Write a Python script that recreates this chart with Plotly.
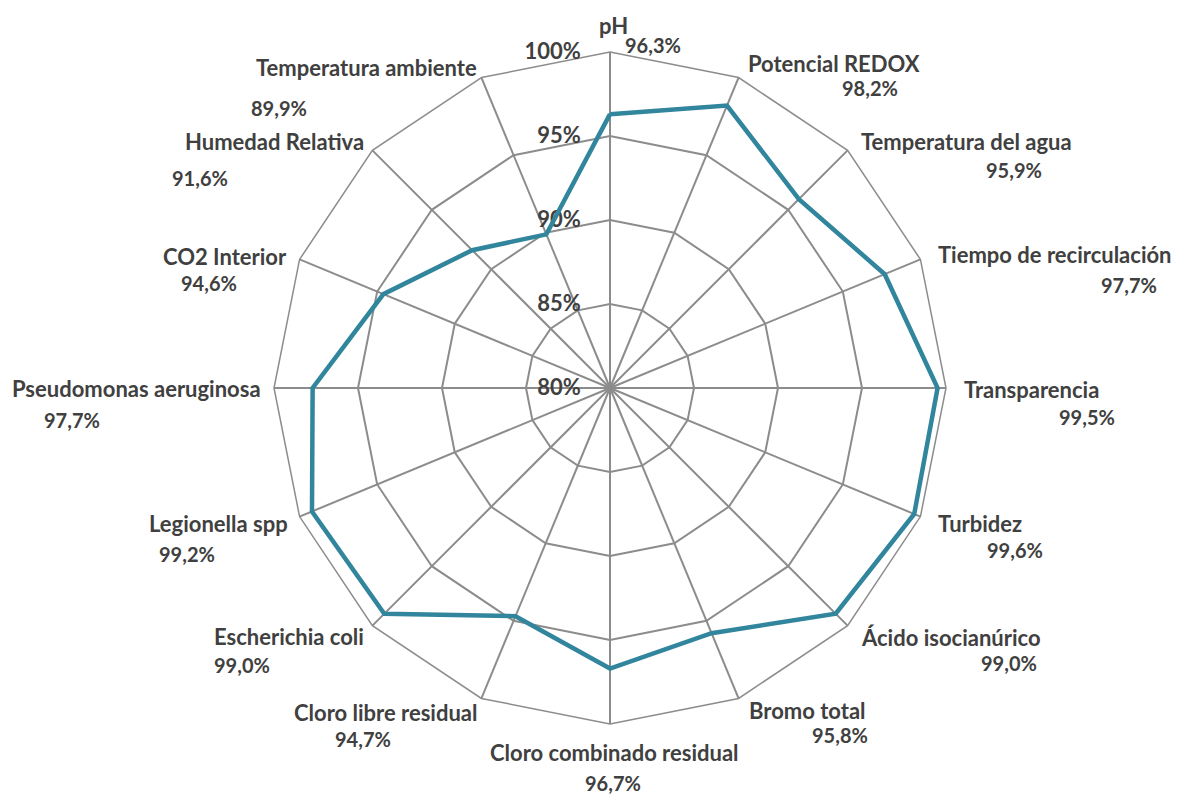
"""
Radar chart: grado de cumplimiento por parámetro (escala 80-100 %)
"""
import plotly.graph_objects as go

# Datos
categorias = [
    "pH", "Potencial REDOX", "Temperatura del agua", "Tiempo de recirculación",
    "Transparencia", "Turbidez", "Ácido isocianúrico", "Bromo total",
    "Cloro combinado residual", "Cloro libre residual", "Escherichia coli",
    "Legionella spp", "Pseudomonas aeruginosa", "CO2 Interior",
    "Humedad Relativa", "Temperatura ambiente",
]
valores = [96.3, 98.2, 95.9, 97.7, 99.5, 99.6, 99.0, 95.8,
           96.7, 94.7, 99.0, 99.2, 97.7, 94.6, 91.6, 89.9]
ticks_r = [80, 85, 90, 95, 100]
etiquetas_r = ["80%", "85%", "90%", "95%", "100%"]

# colocación de las etiquetas (px de pantalla), como las deja Excel
pos_nombres = [
    (613, 25, "center"), (747, 63, "left"), (860, 142, "left"),
    (937, 255, "left"), (963, 389, "left"), (937, 523, "left"),
    (860, 637, "left"), (748, 710, "left"), (614, 752, "center"),
    (478, 712, "right"), (365, 636, "right"), (289, 523, "right"),
    (262, 388, "right"), (288, 256, "right"), (365, 142, "right"),
    (478, 67, "right"),
]
pos_valores = [
    (653, 45), (870, 88), (1014, 170), (1129, 285), (1087, 417), (1015, 550),
    (1009, 663), (840, 735), (613, 783), (363, 739), (242, 665), (187, 554),
    (72, 420), (209, 283), (200, 178), (279, 108),
]

# la página deja 8 px de margen alrededor de la figura
OFF = 8
W, H = 1172, 787
M = dict(l=50, r=18, t=44, b=71)
GRIS = "#404040"
REJILLA = "#8C8C8C"
FUENTE = "Lato"
INVISIBLE = "rgba(0,0,0,0)"

fig = go.Figure()
fig.add_trace(go.Scatterpolar(
    r=valores + valores[:1],
    theta=categorias + categorias[:1],
    mode="lines",
    line=dict(color="#31859C", width=4.5),
    showlegend=False,
    hoverinfo="skip",
))


def to_paper(px, py):
    x = (px - OFF - M["l"]) / (W - M["l"] - M["r"])
    y = 1 - (py - OFF - M["t"]) / (H - M["t"] - M["b"])
    return x, y


annots = []
for c, (px, py, anc) in zip(categorias, pos_nombres):
    x, y = to_paper(px, py)
    annots.append(dict(
        x=x, y=y, xref="paper", yref="paper", showarrow=False,
        text="<b>" + c + "</b>",
        font=dict(family=FUENTE, size=22, color=GRIS),
        xanchor=anc, yanchor="middle", borderpad=0,
    ))
for v, (px, py) in zip(valores, pos_valores):
    x, y = to_paper(px, py)
    annots.append(dict(
        x=x, y=y, xref="paper", yref="paper", showarrow=False,
        text="<b>" + f"{v:.1f}".replace(".", ",") + "%</b>",
        font=dict(family=FUENTE, size=20, color=GRIS),
        xanchor="center", yanchor="middle", borderpad=0,
    ))

fig.update_layout(
    width=W, height=H,
    margin=M,
    paper_bgcolor="white",
    plot_bgcolor="white",
    font=dict(family=FUENTE, color=GRIS),
    annotations=annots,
    polar=dict(
        bgcolor="white",
        gridshape="linear",
        radialaxis=dict(
            range=[80, 100],
            tickvals=ticks_r,
            ticktext=["<b>" + t + "</b>" for t in etiquetas_r],
            tickfont=dict(family=FUENTE, size=22, color=GRIS),
            angle=90,
            tickangle=90,
            side="counterclockwise",
            showline=False,
            ticks="outside",
            ticklen=21,
            tickcolor=INVISIBLE,
            gridcolor=REJILLA,
            gridwidth=1.5,
            layer="below traces",
        ),
        angularaxis=dict(
            rotation=90,
            direction="clockwise",
            tickvals=categorias,
            showticklabels=False,
            ticks="",
            showline=True,
            linecolor=REJILLA,
            linewidth=1.5,
            gridcolor=REJILLA,
            gridwidth=1.5,
            layer="below traces",
        ),
    ),
)

fig.write_html("out.html")
